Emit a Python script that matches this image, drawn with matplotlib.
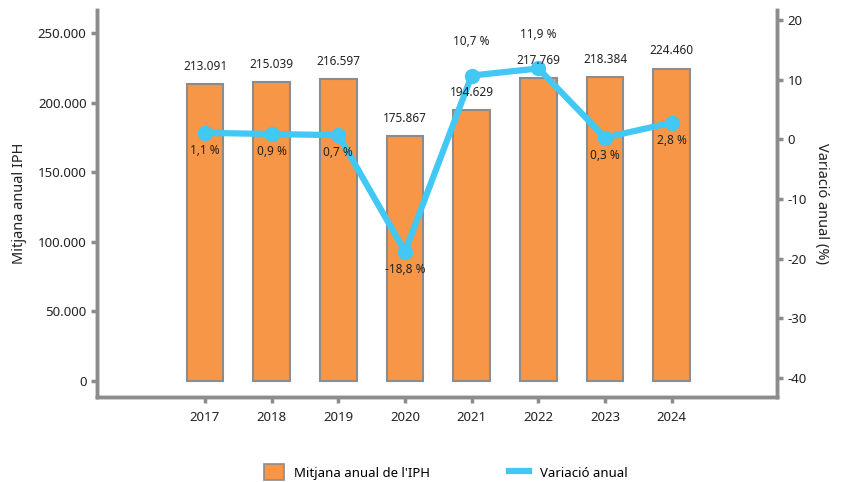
import matplotlib
matplotlib.use("Agg")
import matplotlib.pyplot as plt
from matplotlib.ticker import FuncFormatter
from matplotlib.patches import Patch
from matplotlib.lines import Line2D

plt.rcParams['font.family'] = ['Noto Sans', 'DejaVu Sans']
plt.rcParams['axes.unicode_minus'] = False

years = ['2017', '2018', '2019', '2020', '2021', '2022', '2023', '2024']
iph_mean = [213091, 215039, 216597, 175867, 194629, 217769, 218384, 224460]
variation = [1.1, 0.9, 0.7, -18.8, 10.7, 11.9, 0.3, 2.8]
label_above = [False, False, False, False, True, True, False, False]

orange = '#F79646'
blue = '#41C8F5'
grey = '#8C8C8C'


def thousands(v, pos=None):
    return f"{int(round(v)):,}".replace(',', '.')


def pct(v):
    return f"{v:.1f}".replace('.', ',') + ' %'


fig = plt.figure(figsize=(8.41, 4.82), dpi=100)
ax = fig.add_axes([97 / 841, 85 / 482, 680 / 841, 387 / 482])
ax2 = ax.twinx()

x = list(range(len(years)))
ax.bar(x, iph_mean, width=0.55, color=orange, edgecolor=grey, linewidth=1.5, zorder=2)

ax2.plot(x, variation, color=blue, linewidth=4.5, marker='o', markersize=10, zorder=3)

# labels on the top axes so they sit over the line
for xi, v in zip(x, iph_mean):
    ax2.annotate(thousands(v), (xi, v), xycoords=ax.transData, xytext=(0, 8),
                 textcoords='offset points', ha='center', va='bottom',
                 fontsize=8.5, color='#222222', zorder=5)
for xi, v, up in zip(x, variation, label_above):
    off = (0, 20) if up else (0, -8)
    ax2.annotate(pct(v), (xi, v), xytext=off, textcoords='offset points',
                 ha='center', va='bottom' if up else 'top', fontsize=8.5,
                 color='#222222', zorder=5)

ax.set_xlim(-1.62, 8.58)
ax.set_ylim(-11500, 266500)
ax2.set_ylim(-43.2, 21.7)
ax.set_xticks(x)
ax.set_xticklabels(years)
ax.set_yticks([0, 50000, 100000, 150000, 200000, 250000])
ax.yaxis.set_major_formatter(FuncFormatter(thousands))
ax2.set_yticks([-40, -30, -20, -10, 0, 10, 20])

for a in (ax, ax2):
    a.spines['top'].set_visible(False)
    for s in ('left', 'right', 'bottom'):
        a.spines[s].set_color(grey)
        a.spines[s].set_linewidth(2.5)
    a.tick_params(colors=grey, width=2.5, length=4, labelcolor='#222222', labelsize=9.5)
ax.tick_params(axis='x', pad=6)
ax.set_ylabel('Mitjana anual IPH', fontsize=10.5, color='#222222', labelpad=8)
ax2.set_ylabel('Variació anual (%)', fontsize=10.5, color='#222222', rotation=270,
               labelpad=16)
ax.set_zorder(ax2.get_zorder() - 1)
ax.patch.set_visible(True)
ax2.patch.set_visible(False)

handles = [Patch(facecolor=orange, edgecolor=grey, linewidth=1.2),
           Line2D([0], [0], color=blue, linewidth=4.5)]
fig.legend(handles, ["Mitjana anual de l'IPH", 'Variació anual'], loc='center',
           bbox_to_anchor=(0.53, 0.02), ncol=2, frameon=False, fontsize=9.5,
           columnspacing=6, handlelength=1.5, handleheight=1.5)

fig.savefig('out.png', dpi=100)
